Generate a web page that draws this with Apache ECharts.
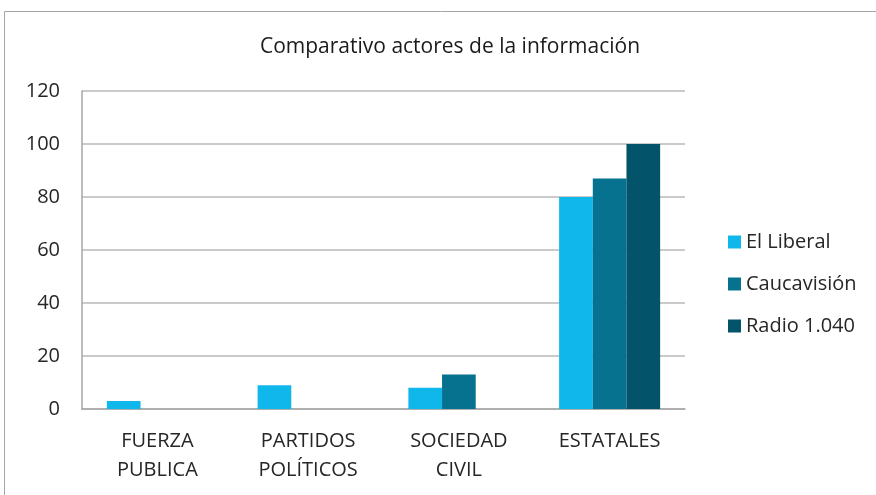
<!DOCTYPE html>
<html>
<head>
<meta charset="utf-8">
<script src="https://cdn.jsdelivr.net/npm/echarts@6/dist/echarts.min.js"></script>
<style>
  html, body { margin: 0; padding: 0; background: #fff; }
  #main { width: 876px; height: 495px; }
</style>
</head>
<body>
<div id="main"></div>
<script>
// categorias y valores
var categorias = ['FUERZA\nPUBLICA', 'PARTIDOS\nPOLÍTICOS', 'SOCIEDAD\nCIVIL', 'ESTATALES'];
var elLiberal = [3, 9, 8, 80];
var caucavision = [0, 0, 13, 87];
var radio1040 = [0, 0, 0, 100];
var ticksY = [0, 20, 40, 60, 80, 100, 120];

var fuente = '"Open Sans", "Noto Sans", sans-serif';
var myChart = echarts.init(document.getElementById('main'));

myChart.setOption({
  animation: false,
  title: {
    text: 'Comparativo actores de la información',
    left: 445, top: 32, textAlign: 'center',
    textStyle: { fontFamily: fuente, fontWeight: 'normal', fontSize: 21, color: '#1a1a1a' }
  },
  graphic: [{
    type: 'rect', silent: true,
    shape: { x: 4.5, y: 11.5, width: 880, height: 500 },
    style: { fill: 'none', stroke: '#a6a6a6', lineWidth: 1 }
  }],
  legend: {
    orient: 'vertical',
    left: 723, top: 227,
    itemWidth: 13, itemHeight: 13, itemGap: 22,
    icon: 'rect',
    textStyle: { fontFamily: fuente, fontSize: 20, color: '#262626' },
    data: ['El Liberal', 'Caucavisión', 'Radio 1.040']
  },
  grid: { left: 82, right: 191, top: 91, bottom: 86 },
  xAxis: {
    type: 'category',
    data: categorias,
    axisLine: { lineStyle: { color: '#a6a6a6', width: 1.5 } },
    axisTick: { show: false },
    axisLabel: { fontFamily: fuente, fontSize: 20, color: '#262626', lineHeight: 29, margin: 18 }
  },
  yAxis: {
    type: 'value',
    min: 0, max: 120, interval: 20,
    axisLine: { show: true, lineStyle: { color: '#a6a6a6', width: 1.5 } },
    axisTick: { show: false },
    splitLine: { lineStyle: { color: '#b8b8b8', width: 1.5 } },
    axisLabel: { fontFamily: fuente, fontSize: 20, color: '#262626', margin: 22 }
  },
  series: [
    { name: 'El Liberal', type: 'bar', data: elLiberal, barGap: '0%', barCategoryGap: '33%', itemStyle: { color: '#0fb7eb' } },
    { name: 'Caucavisión', type: 'bar', data: caucavision, itemStyle: { color: '#077290' } },
    { name: 'Radio 1.040', type: 'bar', data: radio1040, itemStyle: { color: '#03536a' } }
  ]
});
</script>
</body>
</html>
